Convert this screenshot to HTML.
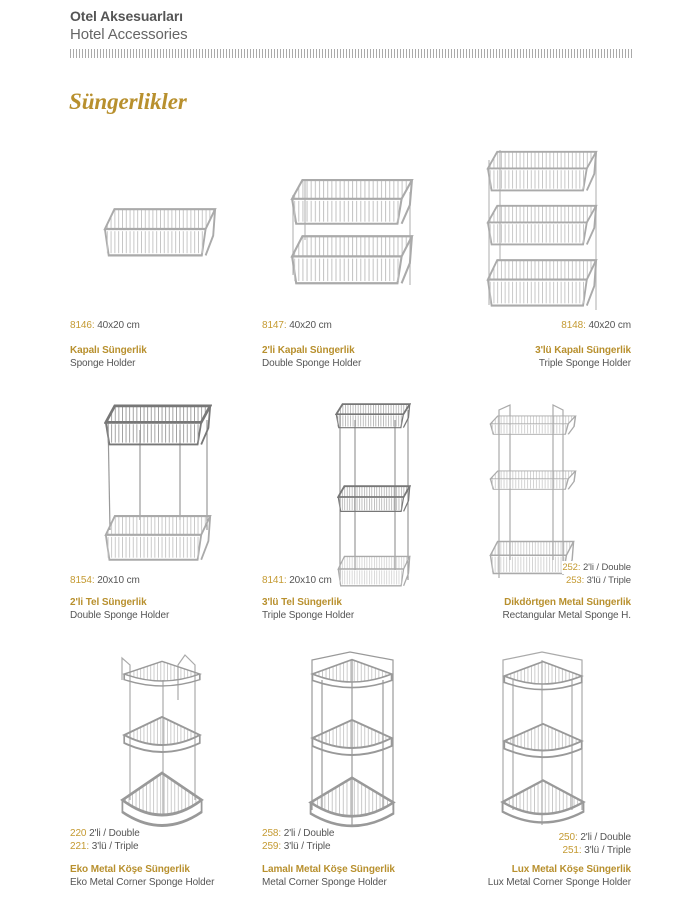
<!DOCTYPE html>
<html><head><meta charset="utf-8"><style>
body{margin:0;background:#fff;width:700px;height:900px;position:relative;overflow:hidden;font-family:"Liberation Sans",sans-serif}
.t{position:absolute;font-size:10px;line-height:13px;color:#555;white-space:nowrap;letter-spacing:-0.1px}
.g{color:#c49a32}
.b{font-weight:bold;color:#b8902e}
.r{text-align:right}
svg{position:absolute;left:0;top:0}
</style></head><body>
<div class="t" style="left:70px;top:7px;font-size:14px;line-height:18px;font-weight:bold;color:#555">Otel Aksesuarları</div>
<div class="t" style="left:70px;top:26px;font-size:15px;line-height:18px;color:#666">Hotel Accessories</div>
<div style="position:absolute;left:70px;top:49px;width:562px;height:9px;background:repeating-linear-gradient(90deg,#aaa 0 1px,transparent 1px 3px)"></div>
<div class="t" style="left:69px;top:88px;font-size:23px;line-height:28px;font-family:'Liberation Serif',serif;font-style:italic;font-weight:bold;color:#b8902e">Süngerlikler</div>

<svg width="700" height="900" viewBox="0 0 700 900">
<defs>
<pattern id="v" width="4" height="10" patternUnits="userSpaceOnUse"><rect width="1" height="10" fill="#c4c4c4"/></pattern>
<pattern id="vd" width="4" height="10" patternUnits="userSpaceOnUse"><rect width="1" height="10" fill="#999"/></pattern>
<symbol id="bk" viewBox="0 0 120 50" preserveAspectRatio="none">
<polygon points="12,2 118,2 108,20 2,20" fill="url(#v)" stroke="#aaa" stroke-width="2"/>
<path d="M2 20 L6 44 L104 44 L108 20 M118 2 L116 26 L108 44" fill="none" stroke="#aaa" stroke-width="2"/>
<rect x="4" y="22" width="102" height="20" fill="url(#v)"/>
</symbol>
<symbol id="bkd" viewBox="0 0 120 50" preserveAspectRatio="none">
<polygon points="12,2 118,2 108,20 2,20" fill="url(#vd)" stroke="#777" stroke-width="3"/>
<path d="M2 20 L6 44 L104 44 L108 20 M118 2 L116 26 L108 44" fill="none" stroke="#777" stroke-width="2"/>
<rect x="4" y="22" width="102" height="20" fill="url(#vd)"/>
</symbol>
<symbol id="cr" viewBox="0 0 100 40" preserveAspectRatio="none">
<path d="M5 20 L50 2 L95 20 Q50 40 5 20 Z" fill="url(#v)" stroke="#999" stroke-width="2"/>
<path d="M5 20 L5 28 Q50 46 95 28 L95 20" fill="none" stroke="#999" stroke-width="2"/>
</symbol>
</defs>
<use href="#bk" x="103" y="207" width="114" height="55"/>
<g stroke="#bbb" stroke-width="1.2"><line x1="293" y1="195" x2="293" y2="275"/><line x1="410" y1="192" x2="410" y2="285"/><line x1="305" y1="180" x2="305" y2="240"/></g>
<use href="#bk" x="290" y="178" width="124" height="52"/>
<use href="#bk" x="290" y="234" width="124" height="56"/>
<g stroke="#bbb" stroke-width="1.2"><line x1="489" y1="160" x2="489" y2="305"/><line x1="596" y1="155" x2="596" y2="310"/><line x1="500" y1="150" x2="500" y2="260"/></g>
<use href="#bk" x="486" y="150" width="112" height="46"/>
<use href="#bk" x="486" y="204" width="112" height="46"/>
<use href="#bk" x="486" y="258" width="112" height="54"/>
<g stroke="#999" stroke-width="1.2"><line x1="108" y1="420" x2="110" y2="530"/><line x1="207" y1="420" x2="207" y2="530"/><line x1="140" y1="430" x2="140" y2="520"/><line x1="180" y1="430" x2="180" y2="520"/></g>
<use href="#bkd" x="104" y="404" width="108" height="46"/>
<use href="#bk" x="104" y="514" width="108" height="52"/>
<g stroke="#999" stroke-width="1.2"><line x1="340" y1="415" x2="340" y2="580"/><line x1="408" y1="410" x2="408" y2="580"/><line x1="355" y1="420" x2="355" y2="570"/><line x1="395" y1="420" x2="395" y2="570"/></g>
<use href="#bkd" x="335" y="403" width="76" height="28"/>
<use href="#bkd" x="337" y="485" width="74" height="30"/>
<use href="#bk" x="337" y="555" width="74" height="35"/>
<g stroke="#aaa" stroke-width="1.2" fill="none"><path d="M499 578 L499 410 L510 405 L510 560"/><path d="M563 575 L563 410 L553 405 L553 560"/></g>
<use href="#bk" x="489" y="415" width="88" height="22"/>
<use href="#bk" x="489" y="470" width="88" height="22"/>
<use href="#bk" x="489" y="540" width="86" height="38"/>
<g stroke="#aaa" stroke-width="1.2" fill="none"><path d="M130 800 L130 665 L122 658 L122 680"/><path d="M195 800 L195 665 L185 655 L178 665 L178 700"/><line x1="163" y1="680" x2="163" y2="815"/></g>
<use href="#cr" x="120" y="660" width="84" height="28"/>
<use href="#cr" x="120" y="715" width="84" height="40"/>
<use href="#cr" x="118" y="770" width="88" height="60"/>
<g stroke="#999" stroke-width="1.2" fill="none"><path d="M312 810 L312 660 L350 652 L393 660 L393 810"/><line x1="352" y1="660" x2="352" y2="825"/><line x1="322" y1="680" x2="322" y2="810"/><line x1="383" y1="680" x2="383" y2="810"/></g>
<use href="#cr" x="308" y="658" width="88" height="32"/>
<use href="#cr" x="308" y="718" width="88" height="40"/>
<use href="#cr" x="306" y="775" width="92" height="55"/>
<g stroke="#aaa" stroke-width="1.2" fill="none"><path d="M503 810 L503 660 L542 652 L582 660 L582 810"/><line x1="542" y1="660" x2="542" y2="825"/><line x1="513" y1="680" x2="513" y2="810"/><line x1="572" y1="680" x2="572" y2="810"/></g>
<use href="#cr" x="500" y="660" width="86" height="32"/>
<use href="#cr" x="500" y="722" width="86" height="38"/>
<use href="#cr" x="498" y="778" width="90" height="48"/>
</svg>

<div class="t" style="left:70px;top:319px"><span class="g">8146:</span> 40x20 cm</div>
<div class="t b" style="left:70px;top:344px">Kapalı Süngerlik</div>
<div class="t" style="left:70px;top:357px">Sponge Holder</div>
<div class="t" style="left:262px;top:319px"><span class="g">8147:</span> 40x20 cm</div>
<div class="t b" style="left:262px;top:344px">2'li Kapalı Süngerlik</div>
<div class="t" style="left:262px;top:357px">Double Sponge Holder</div>
<div class="t r" style="right:69px;top:319px"><span class="g">8148:</span> 40x20 cm</div>
<div class="t b r" style="right:69px;top:344px">3'lü Kapalı Süngerlik</div>
<div class="t r" style="right:69px;top:357px">Triple Sponge Holder</div>

<div class="t" style="left:70px;top:574px"><span class="g">8154:</span> 20x10 cm</div>
<div class="t b" style="left:70px;top:596px">2'li Tel Süngerlik</div>
<div class="t" style="left:70px;top:609px">Double Sponge Holder</div>
<div class="t" style="left:262px;top:574px"><span class="g">8141:</span> 20x10 cm</div>
<div class="t b" style="left:262px;top:596px">3'lü Tel Süngerlik</div>
<div class="t" style="left:262px;top:609px">Triple Sponge Holder</div>
<div class="t r" style="right:69px;top:561px;font-size:9.5px;background:#fff"><span class="g">252:</span> 2'li / Double</div>
<div class="t r" style="right:69px;top:574px;font-size:9.5px;background:#fff"><span class="g">253:</span> 3'lü / Triple</div>
<div class="t b r" style="right:69px;top:596px">Dikdörtgen Metal Süngerlik</div>
<div class="t r" style="right:69px;top:609px">Rectangular Metal Sponge H.</div>

<div class="t" style="left:70px;top:827px"><span class="g">220</span> 2'li / Double</div>
<div class="t" style="left:70px;top:840px"><span class="g">221:</span> 3'lü / Triple</div>
<div class="t b" style="left:70px;top:863px">Eko Metal Köşe Süngerlik</div>
<div class="t" style="left:70px;top:876px">Eko Metal Corner Sponge Holder</div>
<div class="t" style="left:262px;top:827px"><span class="g">258:</span> 2'li / Double</div>
<div class="t" style="left:262px;top:840px"><span class="g">259:</span> 3'lü / Triple</div>
<div class="t b" style="left:262px;top:863px">Lamalı Metal Köşe Süngerlik</div>
<div class="t" style="left:262px;top:876px">Metal Corner Sponge Holder</div>
<div class="t r" style="right:69px;top:831px"><span class="g">250:</span> 2'li / Double</div>
<div class="t r" style="right:69px;top:844px"><span class="g">251:</span> 3'lü / Triple</div>
<div class="t b r" style="right:69px;top:863px">Lux Metal Köşe Süngerlik</div>
<div class="t r" style="right:69px;top:876px">Lux Metal Corner Sponge Holder</div>
</body></html>
